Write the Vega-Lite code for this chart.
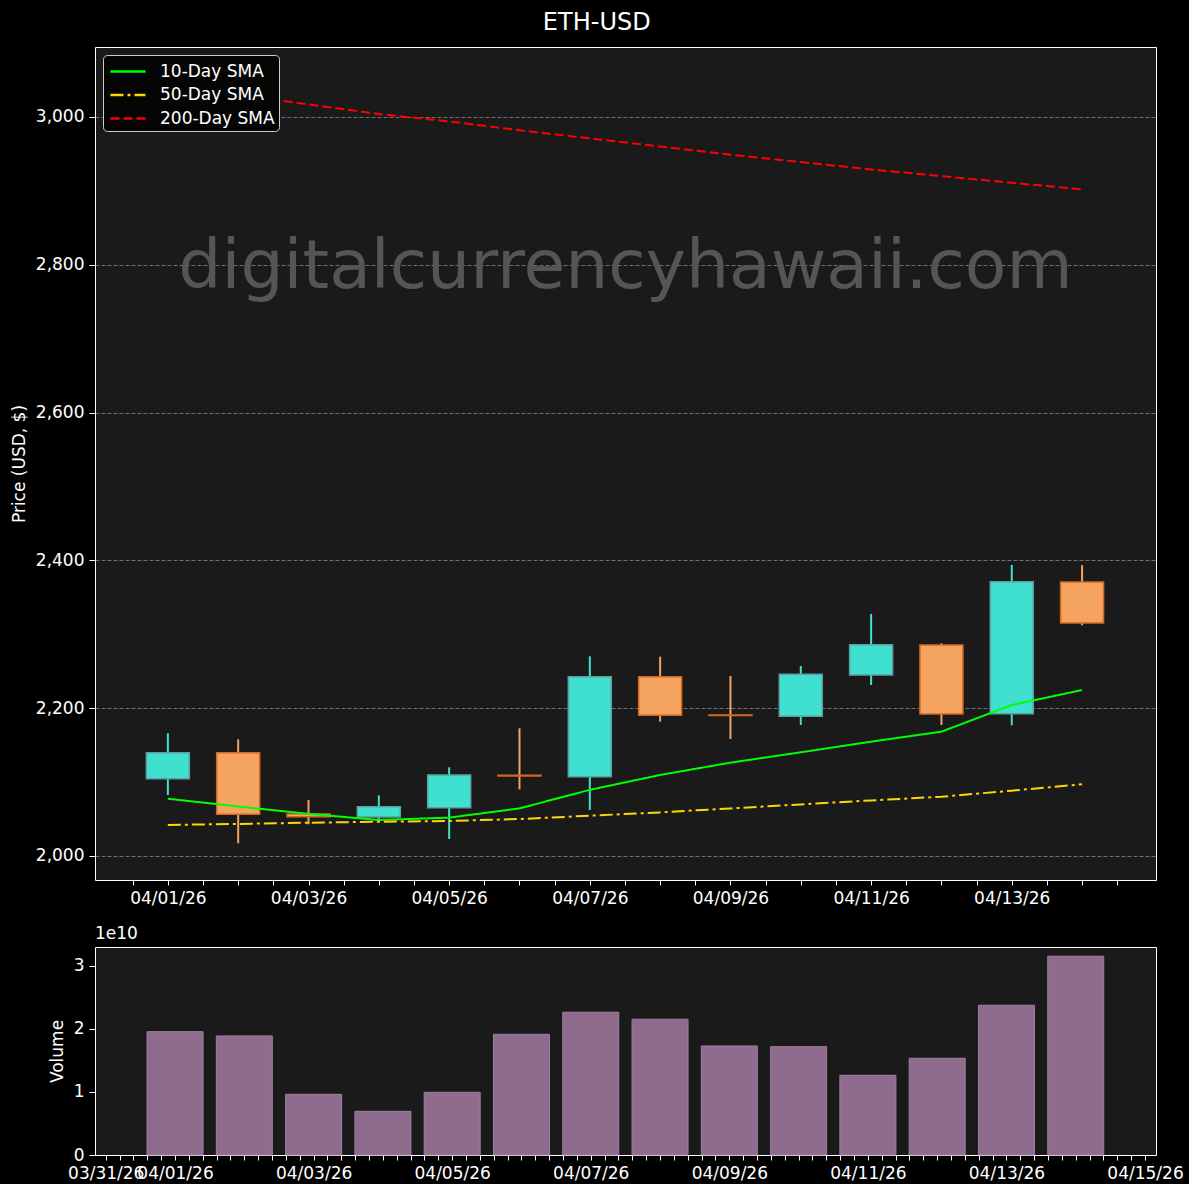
{
  "$schema": "https://vega.github.io/schema/vega-lite/v6.json",
  "background": "#000000",
  "padding": {"left": 9, "top": 10, "right": 5, "bottom": 2},
  "title": {"text": "ETH-USD", "fontSize": 24, "color": "#ffffff", "font": "DejaVu Sans", "fontWeight": "normal", "anchor": "middle", "offset": 12},
  "config": {
    "font": "DejaVu Sans",
    "view": {"fill": "#1a1a1a", "stroke": "#ffffff", "strokeWidth": 1},
    "axis": {"labelColor": "#ffffff", "labelFontSize": 17, "labelFont": "DejaVu Sans", "titleColor": "#ffffff", "titleFontSize": 17, "titleFont": "DejaVu Sans", "titleFontWeight": "normal", "tickColor": "#ffffff", "tickWidth": 1, "domain": false, "labelPadding": 5},
    "legend": {"orient": "top-left", "offset": 8, "fillColor": "#050505", "strokeColor": "#cccccc", "cornerRadius": 4, "padding": 4, "labelFontSize": 17, "labelColor": "#ffffff", "labelFont": "DejaVu Sans", "symbolType": "M-0.82,0H2.36", "symbolSize": 484, "symbolStrokeWidth": 2.5, "rowPadding": 2.5, "labelOffset": 28}
  },
  "datasets": {
    "eth": [
      {"date": "2026-04-01", "dir": "up", "open": 2104.6, "high": 2166.0, "low": 2082.5, "close": 2139.8, "volume": 19570000000, "10-Day SMA": 2077.5, "50-Day SMA": 2042.0, "200-Day SMA": 3044},
      {"date": "2026-04-02", "dir": "down", "open": 2139.8, "high": 2157.9, "low": 2017.2, "close": 2056.4, "volume": 18890000000, "10-Day SMA": 2067.0, "50-Day SMA": 2043.4, "200-Day SMA": 3030},
      {"date": "2026-04-03", "dir": "down", "open": 2056.8, "high": 2075.8, "low": 2042.9, "close": 2053.2, "volume": 9630000000, "10-Day SMA": 2057.0, "50-Day SMA": 2045.0, "200-Day SMA": 3017},
      {"date": "2026-04-04", "dir": "up", "open": 2052.8, "high": 2082.1, "low": 2046.0, "close": 2066.7, "volume": 6930000000, "10-Day SMA": 2048.7, "50-Day SMA": 2046.3, "200-Day SMA": 3004},
      {"date": "2026-04-05", "dir": "up", "open": 2065.4, "high": 2120.0, "low": 2023.0, "close": 2109.6, "volume": 9950000000, "10-Day SMA": 2051.9, "50-Day SMA": 2047.4, "200-Day SMA": 2994},
      {"date": "2026-04-06", "dir": "down", "open": 2109.2, "high": 2172.8, "low": 2090.2, "close": 2108.4, "volume": 19150000000, "10-Day SMA": 2064.4, "50-Day SMA": 2050.0, "200-Day SMA": 2982},
      {"date": "2026-04-07", "dir": "up", "open": 2107.3, "high": 2270.2, "low": 2062.2, "close": 2242.6, "volume": 22650000000, "10-Day SMA": 2089.5, "50-Day SMA": 2054.5, "200-Day SMA": 2971},
      {"date": "2026-04-08", "dir": "down", "open": 2242.6, "high": 2269.7, "low": 2181.8, "close": 2190.3, "volume": 21540000000, "10-Day SMA": 2109.6, "50-Day SMA": 2059.0, "200-Day SMA": 2960},
      {"date": "2026-04-09", "dir": "down", "open": 2190.8, "high": 2243.6, "low": 2158.3, "close": 2190.1, "volume": 17300000000, "10-Day SMA": 2126.3, "50-Day SMA": 2064.4, "200-Day SMA": 2949},
      {"date": "2026-04-10", "dir": "up", "open": 2189.0, "high": 2257.1, "low": 2177.3, "close": 2245.8, "volume": 17190000000, "10-Day SMA": 2140.3, "50-Day SMA": 2069.8, "200-Day SMA": 2939},
      {"date": "2026-04-11", "dir": "up", "open": 2244.9, "high": 2327.5, "low": 2231.4, "close": 2286.0, "volume": 12650000000, "10-Day SMA": 2154.7, "50-Day SMA": 2075.2, "200-Day SMA": 2929},
      {"date": "2026-04-12", "dir": "down", "open": 2285.5, "high": 2287.8, "low": 2177.3, "close": 2192.2, "volume": 15350000000, "10-Day SMA": 2168.2, "50-Day SMA": 2080.2, "200-Day SMA": 2920},
      {"date": "2026-04-13", "dir": "up", "open": 2192.6, "high": 2393.8, "low": 2176.9, "close": 2371.2, "volume": 23760000000, "10-Day SMA": 2204.3, "50-Day SMA": 2088.4, "200-Day SMA": 2911},
      {"date": "2026-04-14", "dir": "down", "open": 2370.8, "high": 2393.4, "low": 2312.2, "close": 2315.3, "volume": 31540000000, "10-Day SMA": 2224.6, "50-Day SMA": 2097.0, "200-Day SMA": 2902}
    ]
  },
  "spacing": 17,
  "resolve": {"scale": {"x": "independent", "y": "independent"}},
  "vconcat": [
    {
      "width": 1061,
      "height": 833,
      "resolve": {"scale": {"x": "independent"}, "axis": {"x": "independent"}},
      "layer": [
        {
          "data": {"values": [{"label": "digitalcurrencyhawaii.com"}]},
          "mark": {"type": "text", "fontSize": 68, "font": "DejaVu Sans", "fill": "#555555", "align": "center", "baseline": "middle"},
          "encoding": {
            "x": {"datum": 0.5, "type": "quantitative", "scale": {"domain": [0, 1]}, "axis": null},
            "y": {"datum": 2795, "type": "quantitative"},
            "text": {"field": "label"}
          }
        },
        {
          "data": {"name": "eth"},
          "encoding": {
            "x": {
              "field": "date", "type": "temporal",
              "scale": {"type": "utc", "domain": [1774918224000, 1776209472000]},
              "axis": {
                "title": null,
                "values": [1774958400000, 1775001600000, 1775044800000, 1775088000000, 1775131200000, 1775174400000, 1775217600000, 1775260800000, 1775304000000, 1775347200000, 1775390400000, 1775433600000, 1775476800000, 1775520000000, 1775563200000, 1775606400000, 1775649600000, 1775692800000, 1775736000000, 1775779200000, 1775822400000, 1775865600000, 1775908800000, 1775952000000, 1775995200000, 1776038400000, 1776081600000, 1776124800000, 1776168000000],
                "labelExpr": "utchours(datum.value) == 0 && utcdate(datum.value) % 2 == 1 ? utcFormat(datum.value, '%m/%d/%y') : ''",
                "tickSize": 5,
                "labelOverlap": false, "labelFlush": false, "labelBound": false, "grid": false
              }
            }
          },
          "layer": [
            {
              "mark": {"type": "rule", "strokeWidth": 2},
              "encoding": {
                "y": {
                  "field": "low", "type": "quantitative",
                  "scale": {"domain": [1967.5, 3094.7], "nice": false, "zero": false},
                  "axis": {"title": "Price (USD, $)", "values": [2000, 2200, 2400, 2600, 2800, 3000], "format": ",.0f", "tickSize": 6, "titlePadding": 7, "grid": true, "gridColor": "#707070", "gridDash": [4, 2], "gridWidth": 1}
                },
                "y2": {"field": "high"},
                "stroke": {"condition": {"test": "datum.dir == 'up'", "value": "#40E0D0"}, "value": "#F4A460"}
              }
            },
            {
              "mark": {"type": "bar", "width": 43, "strokeWidth": 1.5},
              "encoding": {
                "y": {"field": "open", "type": "quantitative"},
                "y2": {"field": "close"},
                "fill": {"condition": {"test": "datum.dir == 'up'", "value": "#40E0D0"}, "value": "#F4A460"},
                "stroke": {"condition": {"test": "datum.dir == 'up'", "value": "#5F9EA0"}, "value": "#D2691E"}
              }
            },
            {
              "transform": [{"fold": ["10-Day SMA", "50-Day SMA", "200-Day SMA"], "as": ["series", "sma"]}],
              "mark": {"type": "line", "strokeWidth": 2},
              "encoding": {
                "y": {"field": "sma", "type": "quantitative"},
                "color": {"field": "series", "type": "nominal", "scale": {"domain": ["10-Day SMA", "50-Day SMA", "200-Day SMA"], "range": ["#00FF00", "#FFD700", "#FF0000"]}, "legend": {"title": null}},
                "strokeDash": {"field": "series", "type": "nominal", "scale": {"domain": ["10-Day SMA", "50-Day SMA", "200-Day SMA"], "range": [[1, 0], [13, 4, 3, 4], [9, 4]]}, "legend": {"title": null}}
              }
            }
          ]
        }
      ]
    },
    {
      "width": 1061,
      "height": 208,
      "data": {"name": "eth"},
      "title": {"text": "1e10", "anchor": "start", "frame": "group", "fontSize": 17, "fontWeight": "normal", "color": "#ffffff", "font": "DejaVu Sans", "offset": 4},
      "mark": {"type": "bar", "width": 56, "fill": "#8f6b8e", "stroke": "#a07f9f", "strokeWidth": 1},
      "encoding": {
        "x": {
          "field": "date", "type": "temporal",
          "scale": {"type": "utc", "domain": [1774908028800, 1776218630400]},
          "axis": {
            "title": null,
            "values": [1774915200000, 1774932480000, 1774949760000, 1774967040000, 1774984320000, 1775001600000, 1775018880000, 1775036160000, 1775053440000, 1775070720000, 1775088000000, 1775105280000, 1775122560000, 1775139840000, 1775157120000, 1775174400000, 1775191680000, 1775208960000, 1775226240000, 1775243520000, 1775260800000, 1775278080000, 1775295360000, 1775312640000, 1775329920000, 1775347200000, 1775364480000, 1775381760000, 1775399040000, 1775416320000, 1775433600000, 1775450880000, 1775468160000, 1775485440000, 1775502720000, 1775520000000, 1775537280000, 1775554560000, 1775571840000, 1775589120000, 1775606400000, 1775623680000, 1775640960000, 1775658240000, 1775675520000, 1775692800000, 1775710080000, 1775727360000, 1775744640000, 1775761920000, 1775779200000, 1775796480000, 1775813760000, 1775831040000, 1775848320000, 1775865600000, 1775882880000, 1775900160000, 1775917440000, 1775934720000, 1775952000000, 1775969280000, 1775986560000, 1776003840000, 1776021120000, 1776038400000, 1776055680000, 1776072960000, 1776090240000, 1776107520000, 1776124800000, 1776142080000, 1776159360000, 1776176640000, 1776193920000, 1776211200000],
            "labelExpr": "utchours(datum.value) == 0 && utcdate(datum.value) % 2 == 1 ? utcFormat(datum.value, '%m/%d/%y') : ''",
            "tickSize": 5,
            "labelOverlap": false, "labelFlush": false, "labelBound": false, "grid": false
          }
        },
        "y": {
          "field": "volume", "type": "quantitative",
          "scale": {"domain": [0, 33000000000], "nice": false},
          "axis": {"title": "Volume", "values": [0, 10000000000, 20000000000, 30000000000], "labelExpr": "format(datum.value / 1e10, 'd')", "tickSize": 6, "titlePadding": 7, "grid": false}
        }
      }
    }
  ]
}
